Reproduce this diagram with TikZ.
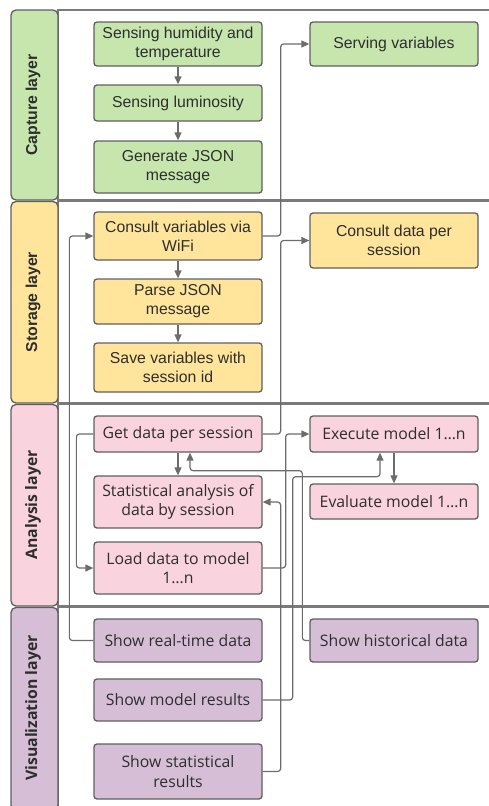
\documentclass[tikz,border=0pt]{standalone}
\usepackage{fontspec}
\setmainfont{Liberation Sans}
\newfontfamily\osans{Open Sans}
\usetikzlibrary{arrows.meta,calc}
\definecolor{cgreen}{HTML}{C6E6AE}
\definecolor{cyellow}{HTML}{FFE59B}
\definecolor{cpink}{HTML}{F9D3DE}
\definecolor{cpurple}{HTML}{D6BED6}
\definecolor{cborder}{HTML}{5F5F5F}
\definecolor{cpane}{HTML}{7A7A7A}
\definecolor{cline}{HTML}{6C6C6C}
\definecolor{ctext}{HTML}{2E2E2E}
\begin{document}
\begin{tikzpicture}[x=1pt,y=-1pt,
  box/.style={draw=cborder, line width=1.3pt, rounded corners=3pt, minimum width=168pt,
    inner sep=0pt, align=center, text=ctext, font=\fontsize{15.8}{19}\selectfont},
  boxo/.style={box, font=\osans\fontsize{15.8}{19.5}\selectfont},
  hdr/.style={draw=cborder, line width=1.3pt, rounded corners=5pt},
  pane/.style={draw=cpane, line width=1.1pt},
  hlabel/.style={rotate=90, text=ctext, font=\bfseries\fontsize{15.8}{19}\selectfont},
  hlabelo/.style={hlabel, font=\osans\bfseries\fontsize{15.8}{19}\selectfont},
  arr/.style={draw=cline, line width=1.2pt, rounded corners=3pt, -{Triangle[length=8pt,width=7pt]}}
]
\useasboundingbox (0,0) rectangle (488,806);
% layer panes
\draw[pane] (58,10) rectangle (505,200);
\draw[pane] (58,201.5) rectangle (505,403);
\draw[pane] (58,404.5) rectangle (505,606);
\draw[pane] (58,607.5) rectangle (505,815);
% headers
\draw[hdr, fill=cgreen] (11,10) rectangle (58,200);
\draw[hdr, fill=cyellow] (11,201.5) rectangle (58,403);
\draw[hdr, fill=cpink] (11,404.5) rectangle (58,606);
\draw[hdr, fill=cpurple] (11,607.5) rectangle (58,810);
\node[hlabel] (lcap) at (33,105) {Capture layer};
\node[hlabel] (lsto) at (33,302) {Storage layer};
\node[hlabelo] (lana) at (33,505) {Analysis layer};
\node[hlabelo] (lvis) at (33,708) {Visualization layer};
% capture
\node[box, fill=cgreen, minimum height=44pt] (hum) at (178,44) {Sensing humidity and\\temperature};
\node[box, fill=cgreen, minimum height=36pt] (lum) at (178,103) {Sensing luminosity};
\node[box, fill=cgreen, minimum height=52pt] (json) at (178,167) {Generate JSON\\message};
\node[box, fill=cgreen, minimum height=44pt] (sv) at (394,44) {Serving variables};
% storage
\node[box, fill=cyellow, minimum height=48pt] (cv) at (178,236) {Consult variables via\\WiFi};
\node[box, fill=cyellow, minimum height=45pt] (parse) at (178,301.5) {Parse JSON\\message};
\node[box, fill=cyellow, minimum height=49pt] (save) at (178,367.5) {Save variables with\\session id};
\node[box, fill=cyellow, minimum height=55pt] (cd) at (394,240.5) {Consult data per\\session};
% analysis
\node[boxo, fill=cpink, minimum height=36pt] (gd) at (178,434) {Get data per session};
\node[boxo, fill=cpink, minimum height=52pt] (sa) at (178,502) {Statistical analysis of\\data by session};
\node[boxo, fill=cpink, minimum height=52pt] (ld) at (178,568) {Load data to model\\1…n};
\node[boxo, fill=cpink, minimum height=36pt] (ex) at (394,434) {Execute model 1…n};
\node[boxo, fill=cpink, minimum height=35pt] (ev) at (394,501.5) {Evaluate model 1…n};
% visualization
\node[boxo, fill=cpurple, minimum height=43pt] (rt) at (178,640.5) {Show real-time data};
\node[boxo, fill=cpurple, minimum height=42pt] (ms) at (178,700) {Show model results};
\node[boxo, fill=cpurple, minimum height=55pt] (st) at (178,771.5) {Show statistical\\results};
\node[boxo, fill=cpurple, minimum height=43pt] (hd) at (394,640.5) {Show historical data};
% connectors
\draw[arr] (hum) -- (lum);
\draw[arr] (lum) -- (json);
\draw[arr] (cv) -- (parse);
\draw[arr] (parse) -- (save);
\draw[arr] (cv.east) -- ++(18,0) |- (sv.west);
\draw[arr] (rt.west) -- ++(-24,0) |- (cv.west);
\draw[arr] (gd.east) -- ++(18,0) |- (cd.west);
\draw[arr] (gd.south) -- (sa.north);
\draw[arr] (gd.west) -- ++(-17,0) |- (ld.west);
\draw[arr] (ld.east) -- ++(23,0) |- (ex.west);
\draw[arr] (ex.south) -- (ev.north);
\draw[arr] (ms.east) -- ++(30,0) |- ($(ex.south)+(-14,24)$) -- ($(ex.south)+(-14,0)$);
\draw[arr] (hd.west) -- ++(-7,0) |- ($(gd.south)+(12,18)$) -- ($(gd.south)+(12,0)$);
\draw[arr] (st.east) -- ++(18,0) |- (sa.east);
\end{tikzpicture}
\end{document}
